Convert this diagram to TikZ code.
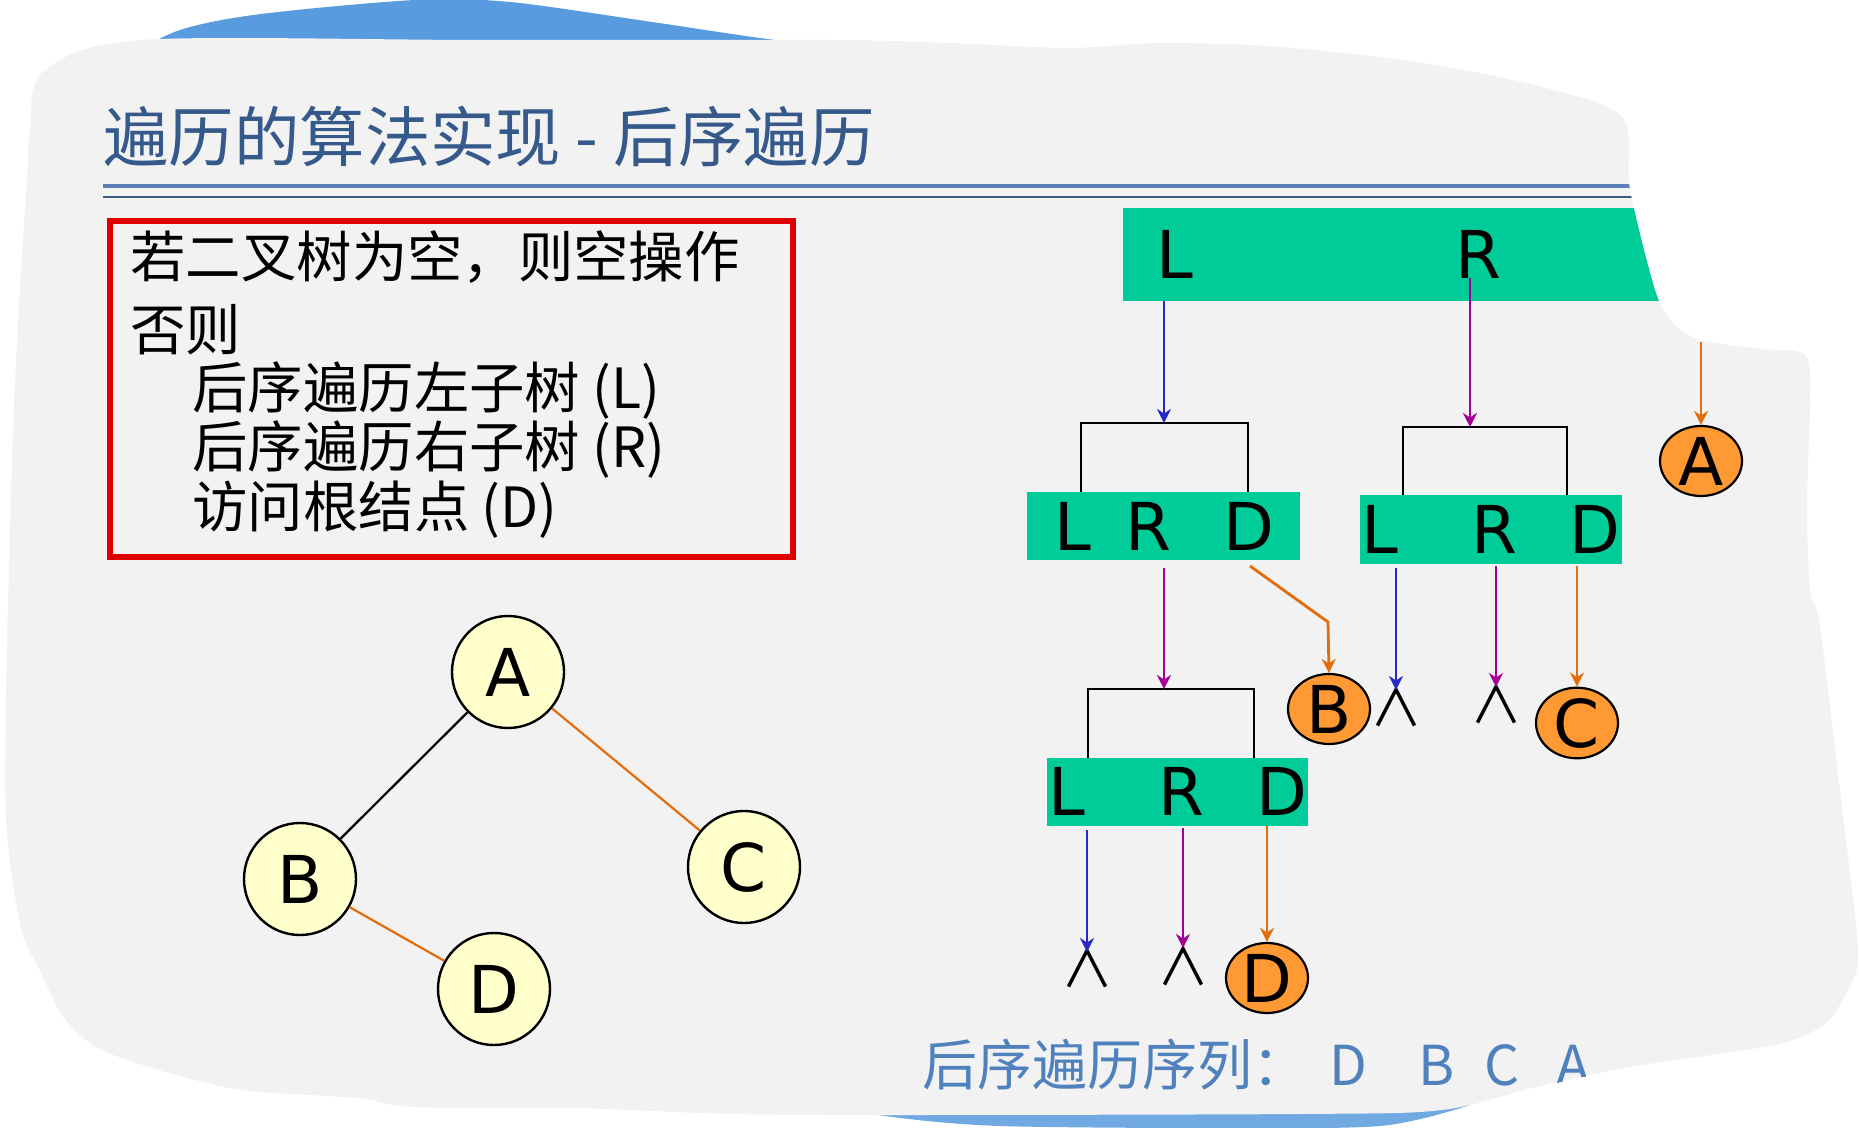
\documentclass[tikz,border=0pt]{standalone}
\usepackage{fontspec}
\usepackage{graphicx}
\setmainfont{Noto Sans CJK SC}
\newfontfamily\lat{DejaVu Sans}
\usetikzlibrary{shapes.geometric,arrows.meta}
\definecolor{bggray}{RGB}{242,242,242}
\definecolor{topblue}{RGB}{88,155,222}
\definecolor{titleblue}{RGB}{52,89,138}
\definecolor{lineblueA}{RGB}{92,127,184}
\definecolor{lineblueB}{RGB}{63,90,133}
\definecolor{boxred}{RGB}{224,0,0}
\definecolor{treeyellow}{RGB}{255,255,204}
\definecolor{visitorange}{RGB}{255,153,51}
\definecolor{lineorange}{RGB}{228,108,10}
\definecolor{boxgreen}{RGB}{0,204,153}
\definecolor{arrblue}{RGB}{40,40,200}
\definecolor{arrmag}{RGB}{165,0,150}
\definecolor{seqblue}{RGB}{79,129,189}
\begin{document}
\begin{tikzpicture}[x=0.5pt,y=-0.5pt,
  titletxt/.style={anchor=west,inner sep=0pt,text=titleblue,font=\fontsize{32.7pt}{36pt}\selectfont},
  bodytxt/.style={anchor=west,inner sep=0pt,font=\fontsize{27.7pt}{30pt}\selectfont},
  seqtxt/.style={anchor=west,inner sep=0pt,text=seqblue,font=\fontsize{27.5pt}{30pt}\selectfont},
  lettr/.style={inner sep=0pt,font=\lat\fontsize{33pt}{36pt}\selectfont},
  treenode/.style={circle,draw=black,line width=1.2pt,fill=treeyellow,minimum size=56pt,inner sep=0pt,font=\lat\fontsize{33pt}{36pt}\selectfont},
  visitnode/.style={ellipse,draw=black,line width=1.1pt,fill=visitorange,minimum width=41pt,minimum height=35pt,inner sep=0pt,font=\lat\fontsize{33pt}{36pt}\selectfont},
  gbox/.style={rectangle,fill=boxgreen,inner sep=0pt},
  nullsym/.style={inner sep=0pt,font=\fontsize{26pt}{30pt}\selectfont},
  bracket/.style={draw=black,line width=1.4pt},
  arr/.style={line width=1.4pt,-{Stealth[length=7pt,width=7pt]}},
  barr/.style={arr,draw=arrblue},
  marr/.style={arr,draw=arrmag},
  oarr/.style={arr,draw=lineorange},
  redbox/.style={draw=boxred,line width=3pt},
  edgeblack/.style={draw=black,line width=1.1pt},
  edgeorange/.style={draw=lineorange,line width=1.1pt}
]
\useasboundingbox (0,0) rectangle (1859,1128);
\fill[white] (0,0) rectangle (1859,1128);
% blue slivers of the slide behind
\fill[topblue] plot[smooth] coordinates {(120,60) (180,30) (261,14) (415,0) (510,2) (652,22) (760,38) (930,60)} -- cycle;
\fill[topblue!85] plot[smooth] coordinates {(820,1105) (900,1118) (1000,1126) (1200,1128) (1380,1126) (1470,1105)} -- cycle;

\begin{scope}
\clip plot[smooth cycle] coordinates {(43,72) (140,40) (480,40) (830,40) (949,43) (1068,48) (1162,43) (1281,47) (1423,63) (1542,87) (1622,117) (1630,190) (1655,290) (1672,322) (1700,340) (1760,349) (1805,355) (1810,400) (1807,504) (1810,590) (1820,626) (1840,791) (1857,935) (1855,975) (1827,1022) (1783,1043) (1711,1055) (1630,1067) (1536,1087) (1442,1110) (1300,1114) (829,1115) (702,1113) (574,1108) (415,1107) (357,1098) (242,1090) (159,1070) (96,1047) (62,1015) (40,970) (23,935) (10,863) (5,791) (7,647) (13,432) (20,288) (27,180) (30,130)};
\fill[bggray] (0,0) rectangle (1859,1128);

% title
\node[titletxt] (title) at (103,137) {遍历的算法实现 - 后序遍历};
\draw[lineblueA,line width=2pt] (103,186) -- (1640,186);
\draw[lineblueB,line width=1pt] (103,197) -- (1640,197);

% algorithm box
\draw[redbox] (110,221) rectangle (793,557);
\node[bodytxt] (t1) at (130,257) {若二叉树为空，则空操作};
\node[bodytxt] (t2) at (130,330) {否则};
\node[bodytxt] (t3) at (192,391) {后序遍历左子树 (L)};
\node[bodytxt] (t4) at (192,450) {后序遍历右子树 (R)};
\node[bodytxt] (t5) at (192,510) {访问根结点 (D)};

% binary tree
\node[treenode] (tA) at (508,672) {A};
\node[treenode] (tB) at (300,879) {B};
\node[treenode] (tC) at (744,867) {C};
\node[treenode] (tD) at (494,989) {D};
\draw[edgeblack] (tA) -- (tB);
\draw[edgeorange] (tA) -- (tC);
\draw[edgeorange] (tB) -- (tD);

% traversal diagram: boxes
\node[gbox,minimum width=300pt,minimum height=46.5pt] (topbox) at (1423,254.5) {};
\node[lettr] (tL) at (1175,254) {L};
\node[lettr] (tR) at (1478,254) {R};

\node[gbox,minimum width=136.5pt,minimum height=34pt] (b2) at (1163.5,526) {};
\node[lettr] (b2L) at (1073,526) {L};
\node[lettr] (b2R) at (1148,526) {R};
\node[lettr] (b2D) at (1249,526) {D};

\node[gbox,minimum width=131pt,minimum height=34.5pt] (b3) at (1491,529.5) {};
\node[lettr] (b3L) at (1380,529) {L};
\node[lettr] (b3R) at (1494,529) {R};
\node[lettr] (b3D) at (1595,529) {D};

\node[gbox,minimum width=130.5pt,minimum height=34pt] (b4) at (1177.5,792) {};
\node[lettr] (b4L) at (1067,791) {L};
\node[lettr] (b4R) at (1181,791) {R};
\node[lettr] (b4D) at (1282,791) {D};

% visited nodes
\node[visitnode] (vA) at (1701,461) {A};
\node[visitnode] (vB) at (1329,709) {B};
\node[visitnode] (vC) at (1577,723) {C};
\node[visitnode] (vD) at (1267,978) {D};

% empty subtrees
\node[nullsym] (n1) at (1396,707) {∧};
\node[nullsym] (n2) at (1496,704) {∧};
\node[nullsym] (n3) at (1087,968) {∧};
\node[nullsym] (n4) at (1183,966) {∧};

% brackets
\coordinate (br1a) at (1081,492); \coordinate (br1t) at (1164,423); \coordinate (br1b) at (1248,492);
\coordinate (br2a) at (1403,495); \coordinate (br2t) at (1470,427); \coordinate (br2b) at (1567,495);
\coordinate (br3a) at (1088,758); \coordinate (br3t) at (1164,689); \coordinate (br3b) at (1254,758);
\draw[bracket] (br1a) |- (br1t) -| (br1b);
\draw[bracket] (br2a) |- (br2t) -| (br2b);
\draw[bracket] (br3a) |- (br3t) -| (br3b);

% arrows
\coordinate (a3s) at (1701,342);
\coordinate (a5s) at (1250,566);
\coordinate (a5m) at (1328,622);
\coordinate (n1t) at (1396,690);
\coordinate (n2t) at (1496,687);
\coordinate (n3t) at (1087,952);
\coordinate (n4t) at (1183,948);
\draw[barr] (topbox.south -| br1t) -- (br1t);
\draw[marr] (tR.south -| br2t) -- (br2t);
\draw[oarr] (a3s) -- (vA.north);
\draw[marr,shorten <=4pt] (b2.south -| br3t) -- (br3t);
\draw[oarr] (a5s) -- (a5m) -- (vB.north);
\draw[barr,shorten <=2pt] (b3.south -| n1t) -- (n1t);
\draw[marr,shorten <=1pt] (b3.south -| n2t) -- (n2t);
\draw[oarr,shorten <=1pt] (b3.south -| vC.north) -- (vC.north);
\draw[barr,shorten <=2pt] (b4.south -| n3t) -- (n3t);
\draw[marr,shorten <=1pt] (b4.south -| n4t) -- (n4t);
\draw[oarr] (b4.south -| vD.north) -- (vD.north);

% result sequence
\node[seqtxt] (seq) at (922,1065) {后序遍历序列：\makebox[41pt][c]{D}\makebox[47pt][c]{B}\makebox[19pt][c]{C}\makebox[52pt][c]{A}};
\end{scope}
\end{tikzpicture}
\end{document}
